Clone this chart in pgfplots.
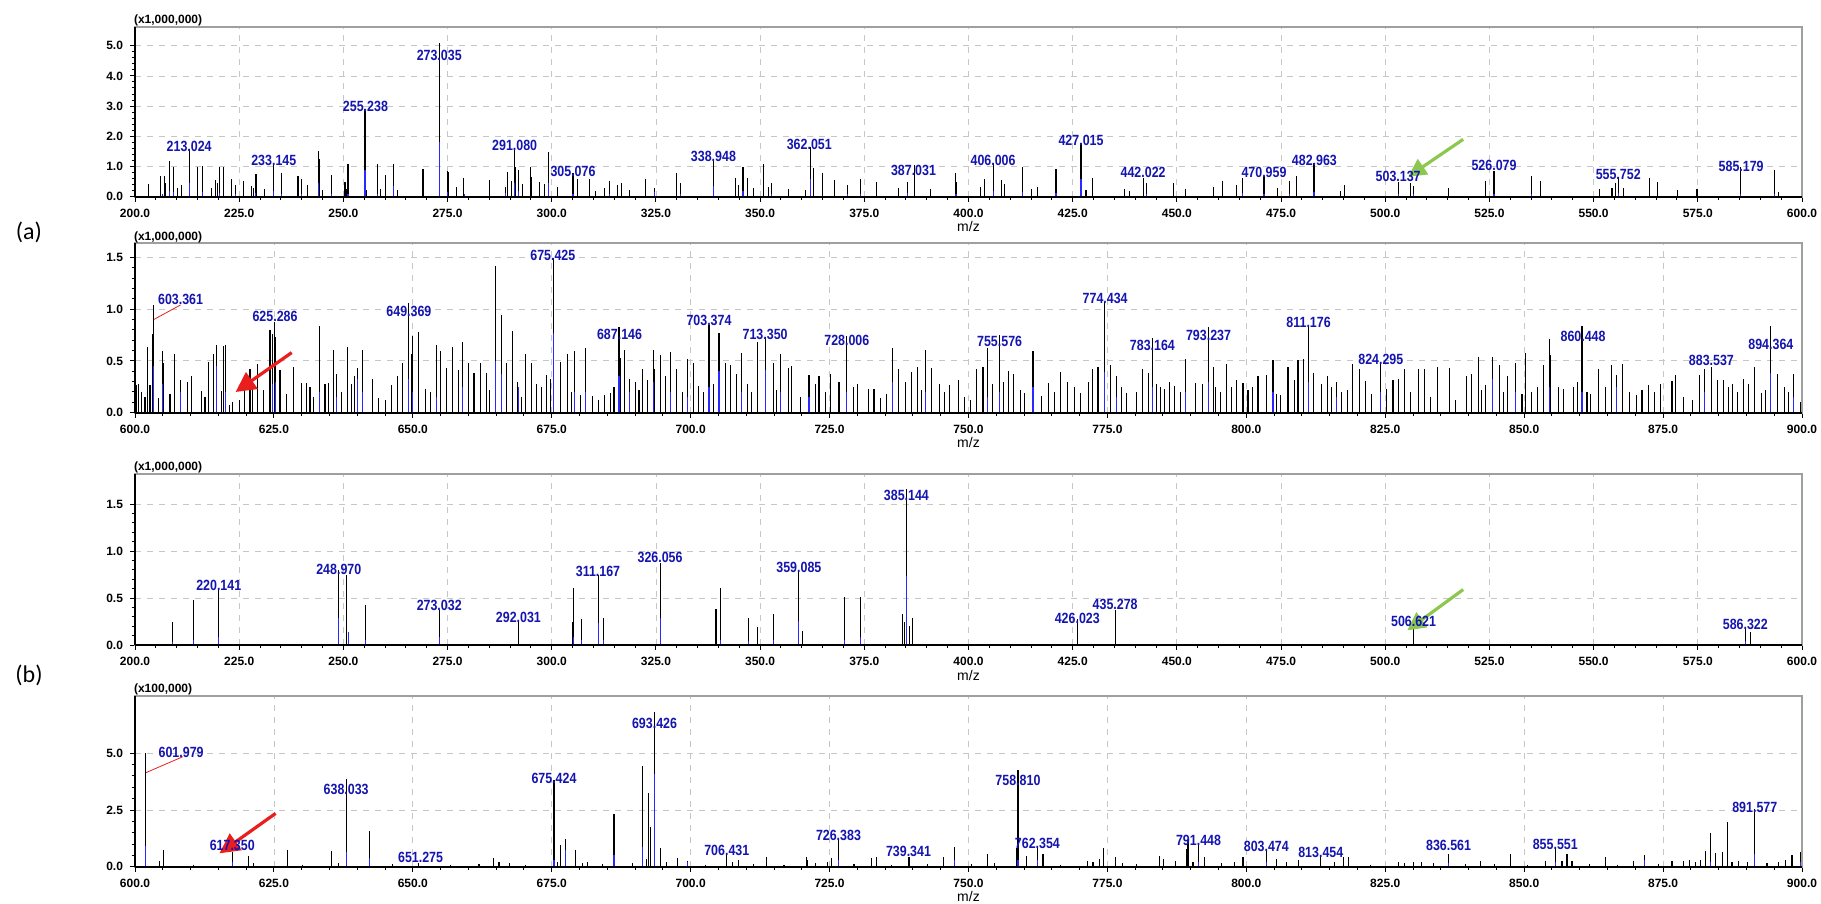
\documentclass[border=0pt]{standalone}
\usepackage{fontspec}
\setmainfont{Liberation Sans}
\newfontfamily\lblfont[FakeStretch=0.84]{Liberation Sans}
\newfontfamily\calfont{Carlito}
\usepackage{pgfplots}
\pgfplotsset{compat=1.18}
\usetikzlibrary{arrows.meta}
\definecolor{lblblue}{RGB}{20,20,175}
\definecolor{stickblue}{RGB}{40,40,255}
\definecolor{arrgreen}{RGB}{140,200,80}
\definecolor{arrred}{RGB}{235,30,30}
\newcommand\ticfont{\fontsize{6}{7}\selectfont\bfseries}
\tikzset{
  garrow/.style={arrgreen, line width=1.6pt, -{Triangle[length=9pt,width=9pt]}},
  rarrow/.style={arrred, line width=1.6pt, -{Triangle[length=10pt,width=10pt]}},
}
\pgfplotsset{
  spec/.style={
    scale only axis, width=833.5pt, anchor=north west,
    axis line style={draw=gray!75, line width=0.9pt},
    tick align=outside, xtick pos=bottom, ytick pos=left,
    major tick length=2.5pt, minor tick length=1.5pt,
    every tick/.style={black, line width=0.5pt},
    minor x tick num=4, minor y tick num=4,
    grid=major, grid style={dashed, gray!45, line width=0.4pt},
    ymin=0, xtick distance=25, clip=false,
    tick label style={font=\ticfont},
    /pgf/number format/assume math mode=true,
    xticklabel style={/pgf/number format/.cd, fixed, fixed zerofill, precision=1, 1000 sep={}},
    yticklabel style={/pgf/number format/.cd, fixed, fixed zerofill, precision=1},
    xlabel={m/z},
    xlabel style={font=\fontsize{7}{8}\selectfont, at={(axis description cs:0.5,0)}, anchor=center, yshift=-15pt},
  },
  blk/.style={ycomb, black, line width=0.55pt, mark=none},
  blu/.style={ycomb, stickblue, line width=0.55pt, mark=none},
  lbl/.style={only marks, mark=none, nodes near coords, point meta=explicit symbolic,
    every node near coord/.append style={anchor=center, inner sep=0pt,
      font=\lblfont\bfseries\fontsize{7.4}{8}\selectfont, text=lblblue}},
}
\newcommand\frameaxes{%
  \draw[black, line width=1pt] (rel axis cs:0,0) -- (rel axis cs:1,0);
  \draw[black, line width=0.6pt] (rel axis cs:0,0) -- (rel axis cs:0,1);}
\begin{document}
\begin{tikzpicture}
\path[use as bounding box] (0,0) rectangle (910.5pt,-452pt);
% ---------------- panel 1 ----------------
\begin{axis}[spec, at={(67.5pt,-13.35pt)}, height=85pt, xmin=200, xmax=600, ymax=5.63, ytick={0,1,2,3,4,5}]
\addplot[blk] coordinates {(203.2,0.42)(206.1,0.68)(207,0.68)(207.3,0.46)(208.2,1.19)(209.3,1.0)(210.3,0.3)(211.2,0.39)(213.1,1.57)(215,1.0)(216.1,1.02)(218.4,0.3)(219.4,0.54)(219.9,0.45)(220.2,1.0)(221.2,1.0)(223.2,0.59)(224.1,0.39)(226.1,0.53)(228,0.35)(228.5,0.28)(229,0.75)(229.2,0.75)(231,0.24)(233.2,1.1)(235.2,0.8)(239.1,0.68)(239.9,0.57)(241.3,0.39)(244.1,1.51)(244.3,1.24)(244.9,0.22)(247.2,0.72)(250.4,0.48)(250.7,0.25)(251.1,1.07)(255.2,2.9)(255.5,0.22)(258.2,1.07)(259,0.25)(260.2,0.73)(262.1,1.07)(263,0.22)(269.1,0.92)(273.0,5.1)(275,0.85)(275.2,0.83)(277.2,0.33)(278.9,0.63)(285.1,0.55)(288.8,0.33)(289.3,0.83)(290.3,0.53)(291.1,1.55)(291.4,1.0)(292.1,0.88)(292.9,0.42)(294.9,1.0)(295.1,0.66)(297.1,0.48)(298.3,0.42)(299.3,1.47)(301.4,0.33)(305.1,0.77)(306.2,0.59)(309,0.59)(310.4,0.19)
(312.7,0.3)(313.8,0.53)(315.8,0.39)(316.7,0.46)(318.6,0.22)(322.4,0.59)(324.7,0.28)(329.9,0.77)(330.8,0.46)(338.8,1.22)(344,0.63)(344.8,0.39)(345.9,1.0)(346.9,0.63)(348.5,0.28)(350.9,1.07)(352.1,0.33)(352.8,0.44)(356.9,0.25)(360.8,0.22)(362,1.66)(362.8,0.94)(365,0.8)(367.9,0.55)(370.9,0.39)(374,0.57)(377.9,0.48)(383.1,0.3)(385.3,0.5)(387.0,1.05)(390.8,0.24)(396.9,0.77)(397,0.5)(402.9,0.33)(403.9,0.6)(405.9,1.1)(407.9,0.55)(408.7,0.42)(413,1.0)(415.1,0.24)(416.6,0.31)(421,0.91)(427,1.77)(428.2,0.22)(429.8,0.63)(437.4,0.24)(438.7,0.19)(441.9,0.63)(442.8,0.46)(449.2,0.46)(452.1,0.24)
(458.8,0.33)(460.9,0.52)(464.2,0.39)(465.7,0.61)(470.9,0.7)(474.2,0.3)(477,0.53)(478.8,0.68)(482.9,1.1)(489.3,0.19)(490.2,0.39)(503.1,0.5)(506.1,0.46)(506.7,0.35)(515.2,0.3)(524.1,0.53)(526.1,0.86)(535,0.68)(537.2,0.53)(551.5,0.24)(554.4,0.3)(555.2,0.46)(555.9,0.66)(557.1,0.3)(563.4,0.63)(565.3,0.48)(570.2,0.22)(574.8,0.24)(585.3,0.97)(593.4,0.88)(594.3,0.14)};
\addplot[blu] coordinates {(206.6,0.1)(208.2,0.2)(209.3,0.15)(213.1,0.45)(216.1,0.15)(220.2,0.12)(224.1,0.08)(229,0.12)(233.2,0.2)(235.2,0.08)(239.9,0.1)(244.1,0.45)(247.2,0.1)(251.1,0.1)(255.2,0.9)(258.2,0.08)(262.1,0.35)(273.0,1.82)(275,0.15)(279,0.1)(288.8,0.12)(291.1,0.45)(292.1,0.2)(299.3,0.45)(305.1,0.1)(313.8,0.08)(324.7,0.15)(330.8,0.1)(338.8,0.35)(345.9,0.2)(352.8,0.1)(362,0.6)(370.9,0.1)(374,0.1)(385.3,0.12)(397,0.1)(405.9,0.2)(413,0.15)(421,0.12)(427,0.6)(442.8,0.1)(465.7,0.12)(470.9,0.1)(477,0.08)(482.9,0.15)(503.1,0.08)(506.7,0.1)(526.1,0.1)(535,0.1)(555.9,0.12)(585.3,0.1)(593.4,0.1)};
\addplot[lbl] table[row sep=\\, meta=l]{x y l\\ 213.0 1.68 213.024\\ 233.3 1.19 233.145\\ 255.3 3.0 255.238\\ 273.0 4.67 273.035\\ 291.1 1.71 291.080\\ 305.1 0.83 305.076\\ 338.8 1.35 338.948\\ 361.8 1.73 362.051\\ 386.8 0.86 387.031\\ 405.9 1.19 406.006\\ 427.0 1.86 427.015\\ 441.9 0.80 442.022\\ 470.9 0.81 470.959\\ 483.0 1.19 482.963\\ 503.1 0.66 503.137\\ 526.1 1.02 526.079\\ 555.9 0.75 555.752\\ 585.4 1.00 585.179\\};
\draw[garrow] (axis cs:518.7,1.9) -- (axis cs:505.5,0.66);
\frameaxes
\node[anchor=west, xshift=-4pt, yshift=3.2pt, font=\ticfont] at (rel axis cs:0,1) {(x1,000,000)};
\end{axis}
% ---------------- panel 2 ----------------
\begin{axis}[spec, at={(67.5pt,-121.65pt)}, height=84.7pt, xmin=600, xmax=900, ymax=1.635, ytick={0,0.5,1,1.5}]
\addplot[blk] coordinates {(600.2,0.27)(600.7,0.28)(601.8,0.15)(602.3,0.63)(602.7,0.27)(603.2,0.76)(603.4,1.04)(604.3,0.14)(605,0.6)(605.2,0.48)(607.1,0.57)(608.2,0.32)(609.4,0.3)(610.2,0.35)(611.9,0.21)(613.3,0.49)(614.2,0.57)(614.7,0.65)(615.5,0.21)(616,0.64)(616.3,0.65)(617,0.07)(617.6,0.1)(619.7,0.28)(620.7,0.42)(621.1,0.33)(622.1,0.47)(624.3,0.8)(624.8,0.76)(625.1,0.88)(625.3,0.73)(626.1,0.41)(628.5,0.44)(630,0.29)(630.9,0.29)(632.1,0.15)(633.2,0.84)(634.2,0.28)(634.8,0.29)(635.8,0.61)(636.3,0.37)(638.3,0.63)(638.9,0.28)(639.5,0.35)(640.1,0.43)(641,0.61)(642.7,0.33)(643.9,0.14)(646.1,0.27)(647.2,0.35)(648.1,0.48)(649.3,1.06)(649.7,0.57)(650,0.74)(651.1,0.78)(652.2,0.23)(654.2,0.65)(655,0.6)(656.1,0.43)(657.1,0.63)(658.2,0.41)(659,0.68)(660,0.48)(661,0.38)(662.1,0.48)(663.2,0.38)(664.8,1.42)(665.9,0.94)(666.9,0.48)(667.9,0.79)(668.8,0.3)(670.3,0.57)(671.3,0.48)(672.2,0.28)(674,0.36)(674.8,0.33)(675.3,1.49)(676.5,0.49)(677.9,0.57)(679.1,0.6)(680.1,0.17)(681.1,0.62)(682.3,0.16)(684.5,0.17)(685.5,0.19)
(687.1,0.83)(687.3,0.53)(688.1,0.61)(689,0.33)(690.1,0.3)(691.3,0.42)(692.2,0.32)(693.3,0.61)(693.5,0.42)(694.5,0.56)(695.4,0.35)(696.4,0.59)(697.4,0.42)(698.6,0.2)(699.4,0.52)(700.5,0.48)(701.4,0.26)(703.3,0.85)(704.1,0.28)(705.1,0.77)(706.3,0.48)(707.1,0.46)(708.2,0.37)(709.2,0.58)(711,0.2)(712.1,0.68)(713.4,0.73)(714.9,0.48)(716.2,0.57)(717.6,0.43)(718.1,0.45)(721.3,0.36)(722.4,0.28)(723.1,0.35)(725.2,0.37)(728.1,0.74)(730,0.28)(732,0.23)(733,0.23)(734.1,0.14)(736.4,0.62)(737.4,0.42)(738.7,0.3)(739.8,0.39)(740.8,0.44)(742.3,0.61)(743.3,0.43)(744.7,0.28)(746.5,0.27)(748.2,0.32)(750.4,0.12)(751.5,0.42)(752.6,0.44)(753.4,0.62)(755.6,0.75)(757.2,0.4)(758.1,0.37)(760.1,0.19)(761.6,0.6)(764.4,0.29)(766.6,0.39)(767.8,0.3)(770.2,0.19)(772.3,0.42)(773.3,0.44)(774.4,1.07)(775.6,0.46)(776.7,0.35)(778.5,0.19)(781.3,0.42)(782.4,0.38)(783.1,0.72)(783.8,0.28)(785.2,0.23)(787,0.26)(789,0.52)(790.9,0.29)(792.1,0.28)(793.2,0.83)(794.1,0.44)(794.4,0.25)(796.4,0.47)(798.2,0.32)(799.4,0.29)(801.1,0.25)(802.1,0.35)(803.7,0.36)(804.8,0.51)(806.1,0.17)(807.5,0.44)(808.6,0.32)(809.3,0.51)(810.3,0.52)(811.2,0.83)(812.1,0.38)(813.5,0.28)(814.6,0.35)(816.3,0.3)(818.2,0.22)(819.1,0.47)(820.3,0.42)(821.4,0.31)(824.2,0.48)(825.3,0.23)(826.4,0.32)(827.4,0.33)(828.5,0.42)(831,0.42)(832.1,0.42)(834.4,0.44)(836.5,0.43)(839.6,0.35)(840.5,0.37)(841.7,0.54)(843.1,0.27)(844.3,0.54)(845.5,0.46)(847,0.35)(848.5,0.48)(850.3,0.58)(852.4,0.25)(853.5,0.46)(854.5,0.71)(854.7,0.56)(857,0.23)(858.8,0.25)(860.4,0.84)(862,0.18)(863.4,0.42)(865.7,0.46)(866.6,0.36)(867.7,0.47)(870.2,0.17)(872.3,0.27)(874.5,0.28)(876.6,0.31)(877.3,0.36)(881.6,0.36)(882.5,0.42)(883.7,0.44)(884.8,0.32)(885.9,0.32)(887.5,0.28)(889.5,0.33)(891.4,0.44)(892.7,0.19)(894.4,0.84)(895.6,0.37)(898.4,0.37)(899.8,0.1)
(601.2,0.2)(606.3,0.18)(612.6,0.15)(618.8,0.12)(623.2,0.22)(627.3,0.18)(631.5,0.25)(637.2,0.2)(645,0.12)(653.1,0.2)(663.8,0.22)(669.6,0.15)(673.1,0.25)(678.5,0.2)(683.4,0.12)(686.2,0.25)(690.7,0.22)(702.3,0.2)(710.2,0.28)(715.5,0.22)(719.8,0.15)(724.2,0.2)(726.7,0.3)(729.3,0.25)(735.2,0.18)(741.5,0.22)(745.6,0.2)(749.3,0.15)(754.3,0.28)(756.3,0.3)(759.3,0.22)(763.1,0.16)(765.5,0.2)(769.1,0.25)(771.6,0.3)(777.5,0.25)(780.2,0.2)(784.5,0.25)(786.2,0.3)(788.1,0.2)(795.3,0.2)(797.3,0.25)(800.3,0.22)(805.4,0.18)(815.4,0.25)(817.2,0.2)(822.6,0.18)(829.6,0.2)(833.1,0.15)(837.7,0.12)(842.4,0.22)(846.3,0.2)(849.6,0.18)(851.3,0.2)(856.1,0.25)(859.6,0.3)(861.3,0.2)(864.6,0.25)(868.9,0.2)(871.2,0.22)(873.4,0.2)(878.6,0.15)(880.3,0.12)(886.7,0.25)(888.4,0.2)(890.3,0.28)(893.5,0.22)(896.8,0.25)(897.6,0.2)};
\addplot[blu] coordinates {(603.4,0.45)(605,0.28)(608.2,0.2)(614.7,0.45)(616.3,0.2)(624.8,0.28)(625.3,0.3)(633.2,0.2)(636.3,0.15)(640.1,0.33)(641,0.2)(649.3,0.33)(650,0.2)(654.2,0.15)(659,0.25)(664.8,0.5)(665.9,0.37)(669,0.25)(675.3,0.77)(679.1,0.2)(681.1,0.2)(687.1,0.35)(689,0.2)(693.3,0.3)(696.4,0.2)(699.4,0.15)(703.3,0.25)(705.1,0.4)(709.2,0.2)(713.4,0.41)(716.2,0.2)(721.3,0.15)(728.1,0.2)(736.4,0.3)(742.3,0.2)(753.4,0.15)(755.6,0.2)(761.6,0.25)(774.4,0.39)(776.7,0.15)(783.1,0.25)(789,0.2)(793.2,0.3)(804.8,0.2)(811.2,0.3)(816.3,0.15)(824.2,0.2)(844.3,0.33)(848.5,0.2)(854.5,0.25)(860.4,0.2)(866.6,0.25)(882.5,0.2)(894.4,0.38)(898.4,0.15)};
\addplot[lbl] table[row sep=\\, meta=l]{x y l\\ 608.2 1.09 603.361\\ 625.2 0.93 625.286\\ 649.3 0.98 649.369\\ 675.2 1.52 675.425\\ 687.2 0.76 687.146\\ 703.3 0.89 703.374\\ 713.4 0.76 713.350\\ 728.1 0.70 728.006\\ 755.6 0.69 755.576\\ 774.6 1.10 774.434\\ 783.1 0.65 783.164\\ 793.2 0.75 793.237\\ 811.2 0.87 811.176\\ 824.2 0.51 824.295\\ 860.6 0.74 860.448\\ 883.7 0.50 883.537\\ 894.4 0.66 894.364\\};
\draw[arrred, line width=0.4pt] (axis cs:603.4,0.9) -- (axis cs:608.2,1.04);
\draw[rarrow] (axis cs:628.2,0.58) -- (axis cs:618.1,0.2);
\frameaxes
\node[anchor=west, xshift=-4pt, yshift=3.2pt, font=\ticfont] at (rel axis cs:0,1) {(x1,000,000)};
\end{axis}
% ---------------- panel 3 ----------------
\begin{axis}[spec, at={(67.5pt,-237pt)}, height=85.5pt, xmin=200, xmax=600, ymax=1.82, ytick={0,0.5,1,1.5}]
\addplot[blk] coordinates {(209.1,0.24)(214.1,0.475)(220.1,0.6)(248.9,0.8)(250.8,0.75)(251.3,0.14)(255.3,0.43)(273,0.375)(292,0.25)(305.0,0.24)(305.2,0.61)(307.2,0.28)(311.2,0.74)(312.5,0.29)(326,0.875)(326.2,0.45)(339.4,0.385)(340.4,0.61)(347.2,0.29)(349.3,0.19)(353.2,0.33)(359.3,0.79)(360.2,0.15)(370.2,0.51)(374.1,0.51)(384.2,0.33)(384.6,0.24)(385.2,1.66)(385.9,0.2)(386.5,0.29)(426.1,0.28)(435.2,0.37)(506.8,0.17)(586.4,0.18)(587.6,0.14)};
\addplot[blu] coordinates {(209.1,0.03)(214.1,0.05)(220.1,0.08)(248.9,0.29)(251.3,0.14)(255.3,0.05)(273,0.08)(305.2,0.08)(307.2,0.05)(311.2,0.23)(312.5,0.05)(326,0.29)(340.4,0.05)(347.2,0.04)(353.2,0.05)(359.3,0.26)(370.2,0.05)(374.1,0.08)(385.2,0.73)(586.4,0.04)};
\addplot[lbl] table[row sep=\\, meta=l]{x y l\\ 220.1 0.63 220.141\\ 248.9 0.80 248.970\\ 273.0 0.42 273.032\\ 292.0 0.29 292.031\\ 311.1 0.78 311.167\\ 326.0 0.93 326.056\\ 359.3 0.83 359.085\\ 385.1 1.59 385.144\\ 426.1 0.28 426.023\\ 435.2 0.43 435.278\\ 506.8 0.25 506.621\\ 586.4 0.22 586.322\\};
\draw[garrow] (axis cs:518.7,0.59) -- (axis cs:505.3,0.156);
\frameaxes
\node[anchor=west, xshift=-4pt, yshift=3.2pt, font=\ticfont] at (rel axis cs:0,1) {(x1,000,000)};
\end{axis}
% ---------------- panel 4 ----------------
\begin{axis}[spec, at={(67.5pt,-347.85pt)}, height=85.5pt, xmin=600, xmax=900, ymax=7.54, ytick={0,2.5,5}]
\addplot[blk] coordinates {(601.9,5.0)(604.4,0.25)(605.2,0.73)(617.5,0.66)(620.4,0.49)(621.3,0.15)(627.4,0.73)(635.4,0.69)(636.6,0.18)(638,3.87)(638.1,1.91)(642.2,1.57)(651.1,0.18)(664.5,0.37)(665.5,0.22)(667.4,0.15)(675.4,3.82)(676,0.22)(676.5,0.97)(677.5,1.21)(679.3,0.73)(680.5,0.15)(681.4,0.22)(686.2,2.32)(686.1,1.57)(689.6,0.15)(691.4,4.44)(692,0.32)(692.4,3.26)(692.7,1.76)(693.5,6.84)(694.6,0.84)(695.6,0.22)(697.6,0.37)(699.5,0.25)(706.5,0.59)(707.5,0.22)(708.6,0.29)(713.6,0.41)(720.9,0.44)(721.1,0.29)(722.5,0.18)(724.6,0.22)(725.4,0.37)(726.6,1.18)(732.6,0.37)(733.4,0.41)(739.3,0.44)(742.6,0.12)(745.5,0.41)(747.4,0.86)(753.4,0.56)(754.7,0.15)(758.9,4.26)(758.7,0.81)(760.5,0.49)(762.4,0.86)(763.4,0.56)(771.4,0.27)(772.4,0.19)(773.5,0.34)(774.3,0.83)(776.4,0.44)(777.7,0.15)(784.4,0.49)(785.1,0.34)(787.2,0.27)(789.3,0.78)(789.5,1.18)(790.4,0.19)(791.4,1.04)(792.5,0.44)(795.5,0.15)(797.8,0.19)(799.4,0.41)(803.6,0.74)(805.4,0.34)(807.3,0.19)(809.4,0.3)(813.4,0.49)(815.8,0.19)(817.5,0.41)(818.4,0.41)(827.4,0.22)(828.5,0.15)(830.1,0.19)(831.6,0.19)(833.7,0.15)(836.4,0.56)(842.2,0.27)(847.5,0.56)(850.6,0.09)(853.8,0.27)(855.6,0.89)(856.8,0.27)(857.7,0.56)(858.6,0.27)(864.6,0.41)(869.7,0.27)(871.6,0.53)(876.6,0.27)(878.7,0.24)(879.7,0.3)(880.8,0.19)(881.8,0.3)(882.7,0.71)(883.6,1.48)(884.4,0.59)(885.7,0.64)(886.6,1.97)(887.4,0.19)(888.6,0.27)(890.2,0.22)(891.5,2.56)(893.7,0.15)(895.8,0.19)(897.1,0.3)(898.2,0.53)(899.8,0.64)
(610.5,0.08)(630.2,0.08)(646.3,0.1)(656.8,0.06)(661.9,0.1)(670.3,0.08)(684.2,0.1)(702.6,0.08)(711.3,0.1)(716.8,0.08)(729.4,0.1)(736.2,0.08)(750.6,0.1)(766.5,0.08)(780.2,0.1)(822.3,0.08)(839.4,0.1)(844.6,0.12)(861.7,0.1)(866.8,0.08)(874.2,0.1)};
\addplot[blu] coordinates {(601.9,0.9)(617.5,0.22)(638.1,0.66)(642.2,0.37)(675.4,0.3)(677.5,0.73)(686.2,0.5)(691.4,0.88)(693.5,4.1)(699.5,0.2)(726.6,0.3)(747.4,0.3)(758.9,0.3)(762.4,0.3)(791.4,0.2)(803.6,0.2)(836.4,0.15)(855.6,0.2)(871.6,0.3)(883.6,0.2)(891.5,0.56)(899.8,0.2)};
\addplot[lbl] table[row sep=\\, meta=l]{x y l\\ 608.3 5.03 601.979\\ 617.5 0.96 617.350\\ 638.0 3.43 638.033\\ 651.4 0.41 651.275\\ 675.4 3.90 675.424\\ 693.5 6.32 693.426\\ 706.5 0.74 706.431\\ 726.6 1.40 726.383\\ 739.2 0.66 739.341\\ 758.9 3.82 758.810\\ 762.4 1.04 762.354\\ 791.4 1.18 791.448\\ 803.6 0.89 803.474\\ 813.4 0.61 813.454\\ 836.4 0.93 836.561\\ 855.6 1.00 855.551\\ 891.5 2.63 891.577\\};
\draw[arrred, line width=0.4pt] (axis cs:602,4.15) -- (axis cs:608.6,4.85);
\draw[rarrow] (axis cs:625.3,2.35) -- (axis cs:615.2,0.59);
\frameaxes
\node[anchor=west, xshift=-4pt, yshift=3.2pt, font=\ticfont] at (rel axis cs:0,1) {(x100,000)};
\end{axis}
\node[font=\calfont\fontsize{12}{14}\selectfont] at (14.5pt,-116.3pt) {(a)};
\node[font=\calfont\fontsize{12}{14}\selectfont] at (14.5pt,-337.5pt) {(b)};
\end{tikzpicture}
\end{document}
